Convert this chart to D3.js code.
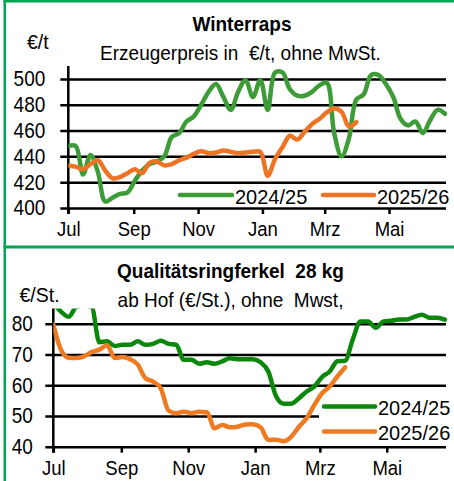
<!DOCTYPE html>
<html>
<head>
<meta charset="utf-8">
<script src="https://cdn.jsdelivr.net/npm/d3@7"></script>
<style>
  body { margin: 0; background: #fff; }
  svg { display: block; font-family: "Liberation Sans", Arial, sans-serif; }
  text { white-space: pre; }
</style>
</head>
<body>
<div class="chart"></div>
<script>
// month ticks (day of season, from 1 July)
const monthDays = [0, 62, 123, 184, 243, 304];
const monthLabels = ["Jul", "Sep", "Nov", "Jan", "Mrz", "Mai"];
const seasons = ["2024/25", "2025/26"];

// Winterraps, weekly, €/t
const raps2425 = [448, 448, 426, 441, 428, 405, 408, 411, 412, 421, 429, 434, 436, 440, 455, 458,
  467, 471, 480, 490, 496, 486, 476, 490, 499, 486, 499, 476, 505, 505, 492, 487, 487, 490, 495, 497,
  458, 440, 454, 484, 488, 503, 503, 496, 486, 469, 464, 467, 458, 468, 476, 473];
const raps2526 = [433, 432, 430, 434, 437, 429, 423, 424, 427, 430, 427, 435, 436, 433, 434, 437,
  439, 442, 444, 442.5, 443, 444.5, 443.5, 442.5, 443, 443.5, 443.5, 425, 438, 447, 456, 453, 459,
  465, 469, 474, 477, 474.5, 463, 466.5];
const rapsTicks = [400, 420, 440, 460, 480, 500];

// Qualitätsringferkel 28 kg, weekly, €/St.
const ferkel2425 = [87, 84, 82.3, 85.5, 86, 85.5, 74, 74.3, 72.8, 73.2, 73.2, 74.3, 73.2, 73.5, 74.5,
  73.5, 73.2, 68.3, 68.3, 67, 67.5, 67, 67.8, 68.8, 68.5, 68.5, 68.5, 67.5, 64.5, 56.5, 54, 54, 55.8,
  58, 59.6, 62.7, 64.5, 67.8, 68, 74.9, 80.8, 80.8, 78.7, 80.8, 81, 81.4, 81.4, 82.3, 83, 82, 82, 81.4];
const ferkel2526 = [79.8, 71.6, 69, 68.9, 69.4, 70.8, 71.6, 73, 68.9, 69.2, 68.5, 66.7, 62.3, 61.2,
  59, 51.8, 50.9, 51.4, 50.9, 51.4, 51.2, 46, 47.1, 46.3, 46.5, 47.2, 47.3, 46.3, 42.2, 42.3, 41.8,
  43.3, 46.5, 49.3, 53.6, 57.4, 59.6, 62.9, 65.8];
const ferkelTicks = [40, 50, 60, 70, 80];

const W = 454, H = 481;
const borderGreen = "#00a651";

const svg = d3.select(".chart").append("svg")
  .attr("width", W)
  .attr("height", H);

// green frame
svg.append("rect").attr("x", 3.5).attr("y", 0).attr("width", 2.5).attr("height", H).attr("fill", borderGreen);
svg.append("rect").attr("x", 3.5).attr("y", 0).attr("width", W).attr("height", 2.5).attr("fill", borderGreen);
svg.append("rect").attr("x", 3.5).attr("y", 245.5).attr("width", W).attr("height", 3).attr("fill", borderGreen);

// the original lettering is a bit taller than Arial, stretch it around its middle
function stretch(sel, s) {
  sel.each(function() {
    const b = this.getBBox();
    const cy = b.y + b.height / 2;
    d3.select(this).attr("transform", `translate(0,${cy}) scale(1,${s}) translate(0,${-cy})`);
  });
}

function drawPanel(o) {
  const g = svg.append("g");
  const x = d3.scaleLinear().domain([0, 358]).range([o.left, 446]);
  const y = d3.scaleLinear().domain(o.yDomain).range([o.bottom, o.top]);

  // titles
  const t1 = g.append("text").attr("x", o.titleX).attr("y", o.titleY)
    .attr("text-anchor", "middle").attr("font-size", 19).attr("font-weight", "bold")
    .text(o.title);
  const t2 = g.append("text").attr("x", o.subX).attr("y", o.subY)
    .attr("text-anchor", "middle").attr("font-size", 19)
    .text(o.subtitle);
  const t3 = g.append("text").attr("x", o.unitX).attr("y", o.unitY)
    .attr("font-size", 19.5)
    .text(o.unit);
  stretch(t1, 1.05); stretch(t2, 1.05); stretch(t3, 1.05);

  // y axis with gridlines
  const yAxis = d3.axisLeft(y)
    .tickValues(o.yTicks)
    .tickSizeInner(-(446 - o.left))
    .tickSizeOuter(0)
    .tickPadding(o.labelPad);
  const ya = g.append("g")
    .attr("transform", `translate(${o.left},0)`)
    .call(yAxis);
  ya.select(".domain").remove();
  ya.selectAll(".tick line").attr("x1", -8).attr("stroke", "#000").attr("stroke-width", 2.5);
  ya.selectAll(".tick text").attr("font-size", 19).attr("font-family", null).attr("fill", "#000");
  stretch(ya.selectAll(".tick text"), 1.13);

  // x axis
  const xAxis = d3.axisBottom(x)
    .tickValues(monthDays)
    .tickFormat((d, i) => monthLabels[i])
    .tickSize(6)
    .tickPadding(o.xPad);
  const xa = g.append("g")
    .attr("transform", `translate(0,${o.bottom})`)
    .call(xAxis);
  xa.select(".domain").remove();
  xa.selectAll(".tick line").attr("stroke", "#000").attr("stroke-width", 2.5);
  xa.selectAll(".tick text").attr("font-size", 18.5).attr("font-family", null).attr("fill", "#000");
  stretch(xa.selectAll(".tick text"), 1.05);

  // vertical axis line
  g.append("line")
    .attr("x1", o.left).attr("x2", o.left)
    .attr("y1", o.top).attr("y2", o.bottom + 6)
    .attr("stroke", "#000").attr("stroke-width", 2.5);

  // legend box (covers gridlines)
  g.append("rect")
    .attr("x", o.legend.box[0]).attr("y", o.legend.box[1])
    .attr("width", o.legend.box[2]).attr("height", o.legend.box[3])
    .attr("fill", "#fff");

  // clip to plot area
  const clipId = "clip" + o.id;
  g.append("clipPath").attr("id", clipId)
    .append("rect")
    .attr("x", o.left).attr("y", o.top)
    .attr("width", 446 - o.left + 4).attr("height", o.bottom - o.top + 10);

  const line = d3.line()
    .x((d, i) => x(i * 7))
    .y(d => y(d))
    .curve(o.curve);

  o.series.forEach((s, k) => {
    g.append("path")
      .datum(s)
      .attr("clip-path", `url(#${clipId})`)
      .attr("fill", "none")
      .attr("stroke", o.colors[k])
      .attr("stroke-width", 4.5)
      .attr("stroke-linejoin", "round")
      .attr("stroke-linecap", "round")
      .attr("d", line);
  });

  // legend entries
  seasons.forEach((name, k) => {
    const p = o.legend.items[k];
    g.append("line")
      .attr("x1", p[0]).attr("x2", p[1])
      .attr("y1", p[2]).attr("y2", p[2])
      .attr("stroke", o.colors[k]).attr("stroke-width", 4.5)
      .attr("stroke-linecap", "round");
    const lt = g.append("text")
      .attr("x", p[1] + 3).attr("y", p[3])
      .attr("font-size", 20)
      .text(name);
    stretch(lt, 1.05);
  });
}

drawPanel({
  id: "raps",
  left: 68.3, top: 66, bottom: 208,
  yDomain: [400, 510], yTicks: rapsTicks, labelPad: 23, xPad: 8.5,
  title: "Winterraps", titleX: 242, titleY: 31,
  subtitle: "Erzeugerpreis in  €/t, ohne MwSt.", subX: 240.5, subY: 59.5,
  unit: "€/t", unitX: 27, unitY: 48.5,
  series: [raps2425, raps2526],
  colors: ["#3d9c37", "#ec7424"],
  curve: d3.curveCatmullRom.alpha(0.5),
  legend: {
    box: [175, 185, 278, 21],
    items: [[180, 232, 195, 203.5], [323, 374, 195, 203.5]]
  }
});

drawPanel({
  id: "ferkel",
  left: 53.3, top: 308.5, bottom: 446.7,
  yDomain: [40, 85], yTicks: ferkelTicks, labelPad: 20.5, xPad: 8.8,
  title: "Qualitätsringferkel  28 kg", titleX: 230.5, titleY: 278,
  subtitle: "ab Hof (€/St.), ohne  Mwst,", subX: 230.5, subY: 306.5,
  unit: "€/St.", unitX: 19.5, unitY: 301.5,
  series: [ferkel2425, ferkel2526],
  colors: ["#0b880b", "#ee7a22"],
  curve: d3.curveMonotoneX,
  legend: {
    box: [319, 393, 135, 51],
    items: [[324, 375, 406.5, 415], [324, 375, 431.5, 440]]
  }
});
</script>
</body>
</html>
